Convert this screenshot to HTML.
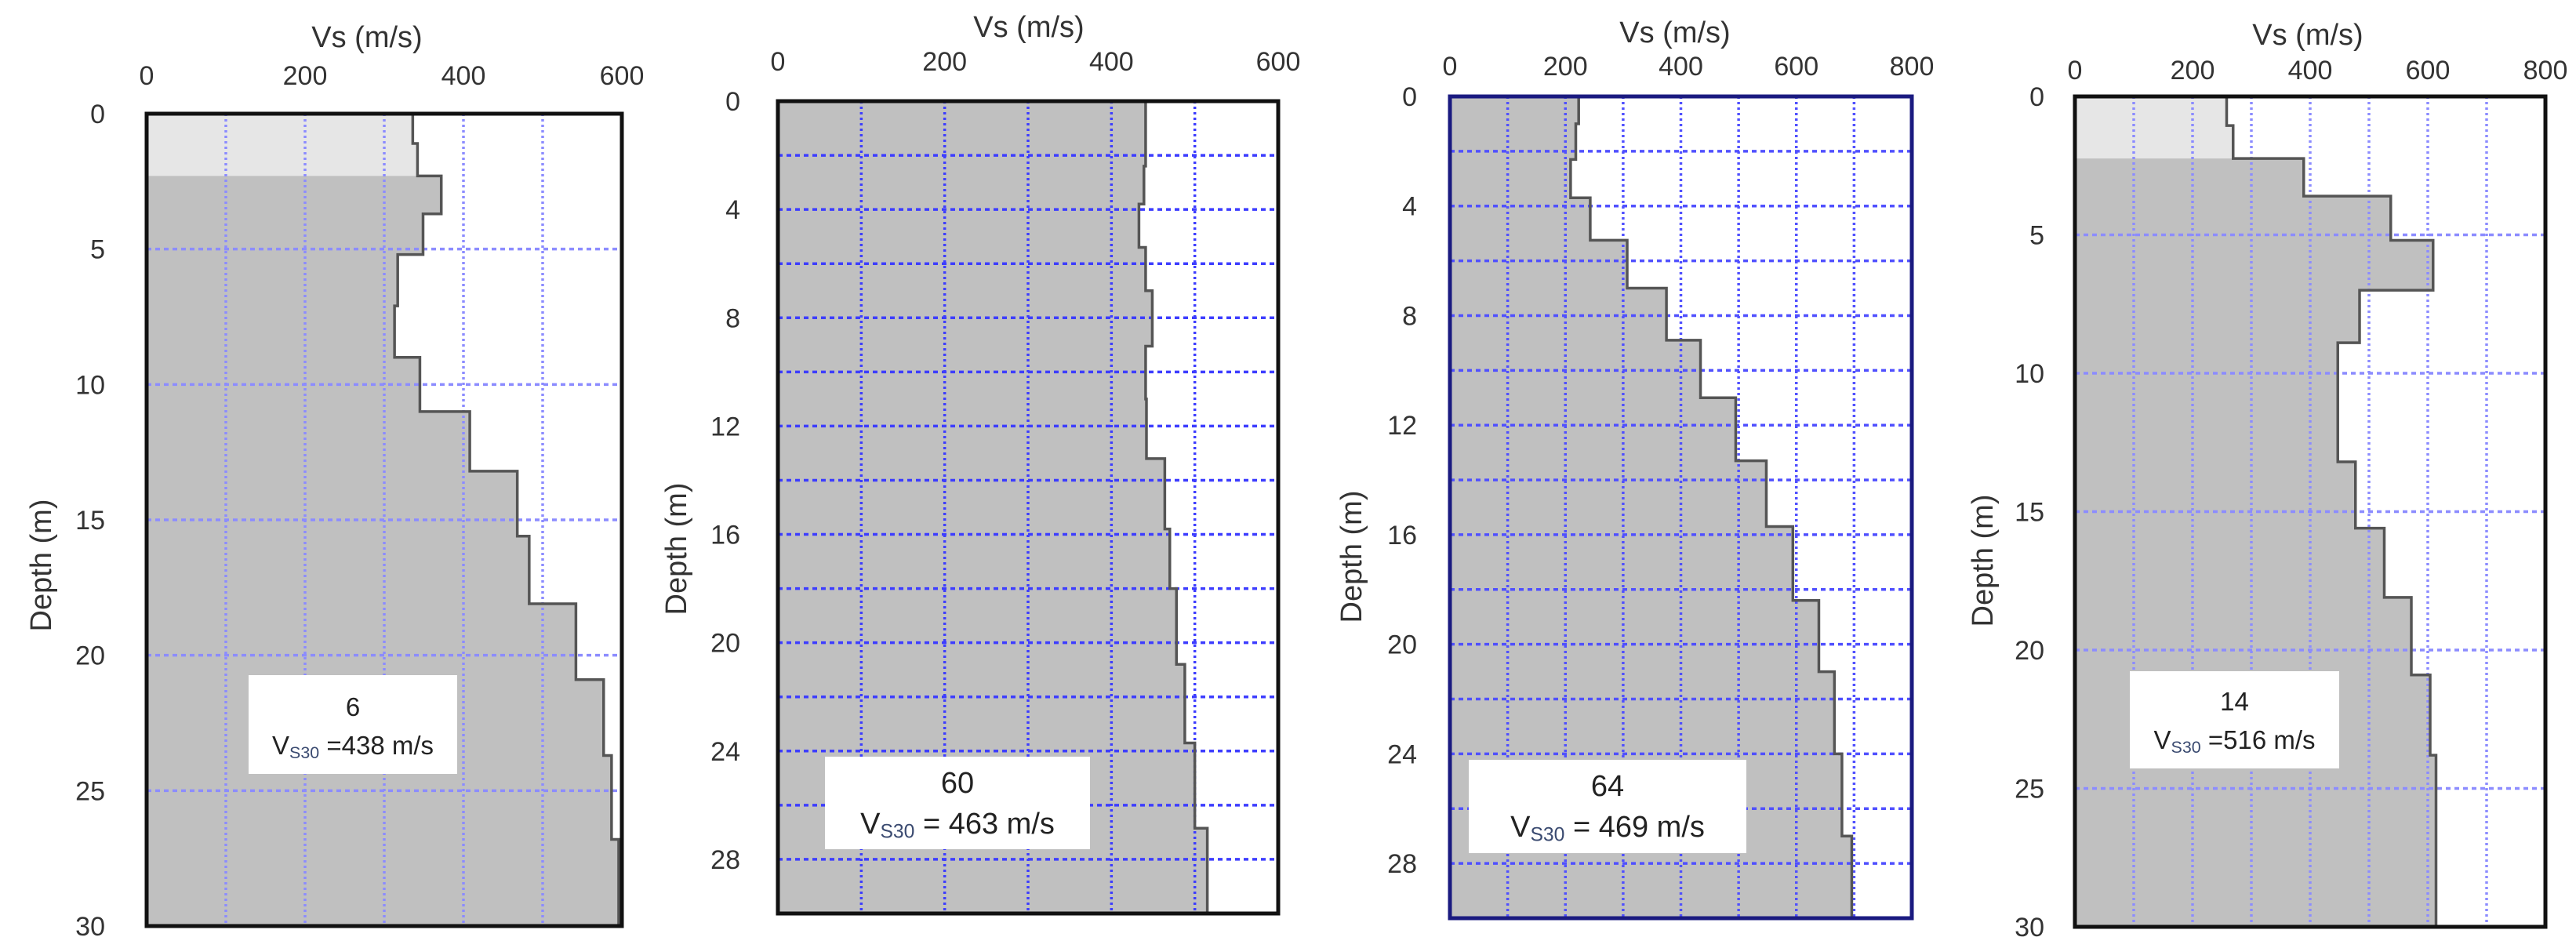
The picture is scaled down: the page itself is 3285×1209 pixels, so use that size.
<!DOCTYPE html>
<html><head><meta charset="utf-8"><style>
html,body{margin:0;padding:0;background:#fff;}
svg{display:block;font-family:"Liberation Sans","DejaVu Sans",sans-serif;}
</style></head><body>
<svg id="chart" width="3285" height="1209" viewBox="0 0 3285 1209" xmlns="http://www.w3.org/2000/svg"></svg>
<script>
// ---- data ----
const p1Depths=[0,1.1,2.3,3.7,5.2,7.1,9.0,11.0,13.2,15.6,18.1,20.9,23.7,26.8];
const p1Vs=[336,342,372,349,317,313,345,408,468,483,542,577,587,596];
const p2Depths=[0,2.4,3.8,5.4,7.0,9.05,11.0,13.2,15.8,18.0,20.8,23.7,26.85];
const p2Vs=[441,439,433,441,449,441,442,464,470,478,488,500,515];
const p3Depths=[0,1.0,2.3,3.7,5.25,7.0,8.9,11.0,13.3,15.7,18.4,21.0,24.0,27.0];
const p3Vs=[223,218,209,243,307,375,434,495,548,594,639,666,679,696];
const p4Depths=[0,1.05,2.24,3.6,5.2,7.0,8.9,13.2,15.6,18.1,20.9,23.8];
const p4Vs=[258,269,389,537,609,484,447,477,526,572,604,614];
const p1XTicks=[0,200,400,600];
const p2XTicks=[0,200,400,600];
const p3XTicks=[0,200,400,600,800];
const p4XTicks=[0,200,400,600,800];
const p1YTicks=[0,5,10,15,20,25,30];
const p2YTicks=[0,4,8,12,16,20,24,28];
const p3YTicks=[0,4,8,12,16,20,24,28];
const p4YTicks=[0,5,10,15,20,25,30];
const siteIds=["6","60","64","14"];
const vs30Values=["=438 m/s","= 463 m/s","= 469 m/s","=516 m/s"];

const panels=[
 {L:187,R:793,T:145,B:1181,xmax:600,gx:100,gy:5,depths:p1Depths,vs:p1Vs,xt:p1XTicks,yt:p1YTicks,light:2,grid:"#8c8cff",border:"#111",
  title:[468,60],xty:108,ytx:134,dtx:52,dty:721,box:[317,861,583,987],fs:33,b1:913,b2:962},
 {L:992,R:1630,T:129,B:1165,xmax:600,gx:100,gy:2,depths:p2Depths,vs:p2Vs,xt:p2XTicks,yt:p2YTicks,light:0,grid:"#3d3dff",border:"#111",
  title:[1312,47],xty:90,ytx:944,dtx:862,dty:700,box:[1052,965,1390,1083],fs:38,b1:1011,b2:1063},
 {L:1849,R:2438,T:123,B:1171,xmax:800,gx:100,gy:2,depths:p3Depths,vs:p3Vs,xt:p3XTicks,yt:p3YTicks,light:0,grid:"#5050ff",border:"#1a1a80",
  title:[2136,54],xty:96,ytx:1807,dtx:1723,dty:710,box:[1873,969,2227,1088],fs:38,b1:1015,b2:1067},
 {L:2646,R:3246,T:123,B:1182,xmax:800,gx:100,gy:5,depths:p4Depths,vs:p4Vs,xt:p4XTicks,yt:p4YTicks,light:2,grid:"#8c8cff",border:"#111",
  title:[2943,57],xty:101,ytx:2607,dtx:2528,dty:715,box:[2716,856,2983,980],fs:33,b1:906,b2:955}
];
const NS="http://www.w3.org/2000/svg";
const svg=document.getElementById('chart');
function mk(tag,attrs,parent){const e=document.createElementNS(NS,tag);for(const k in attrs)e.setAttribute(k,attrs[k]);(parent||svg).appendChild(e);return e;}

panels.forEach((p,i)=>{
  const g=mk('g',{});
  
  
  const xs=v=>p.L+(p.R-p.L)*v/p.xmax;
  const ys=d=>p.T+(p.B-p.T)*d/30;
  const n=p.depths.length;
  let pts=[];
  for(let k=0;k<n;k++){const d0=p.depths[k],d1=k+1<n?p.depths[k+1]:30;pts.push([xs(p.vs[k]),ys(d0)],[xs(p.vs[k]),ys(d1)]);}
  const poly=[[p.L,ys(0)],...pts,[p.L,ys(30)]];
  const fill=mk('polygon',{points:poly.map(q=>q.join(',')).join(' '),fill:'#c0c0c0'},g);
  
  
  if(p.light>0){
    const dl=p.depths[p.light];
    let lp=[[p.L,ys(0)]];
    for(let k=0;k<p.light;k++){lp.push([xs(p.vs[k]),ys(p.depths[k])],[xs(p.vs[k]),ys(p.depths[k+1])]);}
    lp.push([p.L,ys(dl)]);
    const lf=mk('polygon',{points:lp.map(q=>q.join(',')).join(' '),fill:'#e6e6e6'},g);
    
    
  }
  for(let v=p.gx;v<p.xmax;v+=p.gx){
    const l=mk('line',{x1:xs(v),x2:xs(v),y1:p.T,y2:p.B,stroke:p.grid,'stroke-width':3.5,'stroke-dasharray':'3 4'},g);
    
    
  }
  for(let d=p.gy;d<30;d+=p.gy){
    const l=mk('line',{x1:p.L,x2:p.R,y1:ys(d),y2:ys(d),stroke:p.grid,'stroke-width':3.5,'stroke-dasharray':'6 5'},g);
    
    
  }
  const ol=mk('polyline',{points:pts.map(q=>q.join(',')).join(' '),fill:'none',stroke:'#555','stroke-width':3.5},g);
  
  
  const br=mk('rect',{x:p.L,y:p.T,width:p.R-p.L,height:p.B-p.T,fill:'none',stroke:p.border,'stroke-width':5},g);
  
  
  p.xt.forEach(v=>{
    const t=mk('text',{x:xs(v),y:p.xty,'text-anchor':'middle','font-size':34,fill:'#333'},g);
    t.textContent=v;
    
    
  });
  p.yt.forEach(d=>{
    const t=mk('text',{x:p.ytx,y:ys(d)+12,'text-anchor':'end','font-size':34,fill:'#333'},g);
    t.textContent=d;
    
    
  });
  const xt=mk('text',{x:p.title[0],y:p.title[1],'text-anchor':'middle','font-size':38,fill:'#333'},g);
  xt.textContent='Vs (m/s)';
  
  
  const yt=mk('text',{x:0,y:0,'text-anchor':'middle','font-size':38,fill:'#333',transform:`translate(${p.dtx+13},${p.dty}) rotate(-90)`},g);
  yt.textContent='Depth (m)';
  
  
  const b=p.box;
  const bx=mk('rect',{x:b[0],y:b[1],width:b[2]-b[0],height:b[3]-b[1],fill:'#fff'},g);
  
  
  const cx=(b[0]+b[2])/2;
  const t1=mk('text',{x:cx,y:p.b1,'text-anchor':'middle','font-size':p.fs,fill:'#222'},g);
  t1.textContent=siteIds[i];
  
  
  const t2=mk('text',{x:cx,y:p.b2,'text-anchor':'middle','font-size':p.fs,fill:'#222'},g);
  
  
  const s1=mk('tspan',{},t2);s1.textContent='V';
  const s2=mk('tspan',{'font-size':p.fs*0.65,dy:p.fs*0.15,fill:'#3a4a70'},t2);s2.textContent='S30';
  const s3=mk('tspan',{dy:-p.fs*0.15},t2);s3.textContent=' '+vs30Values[i];
});
</script>
</body></html>
